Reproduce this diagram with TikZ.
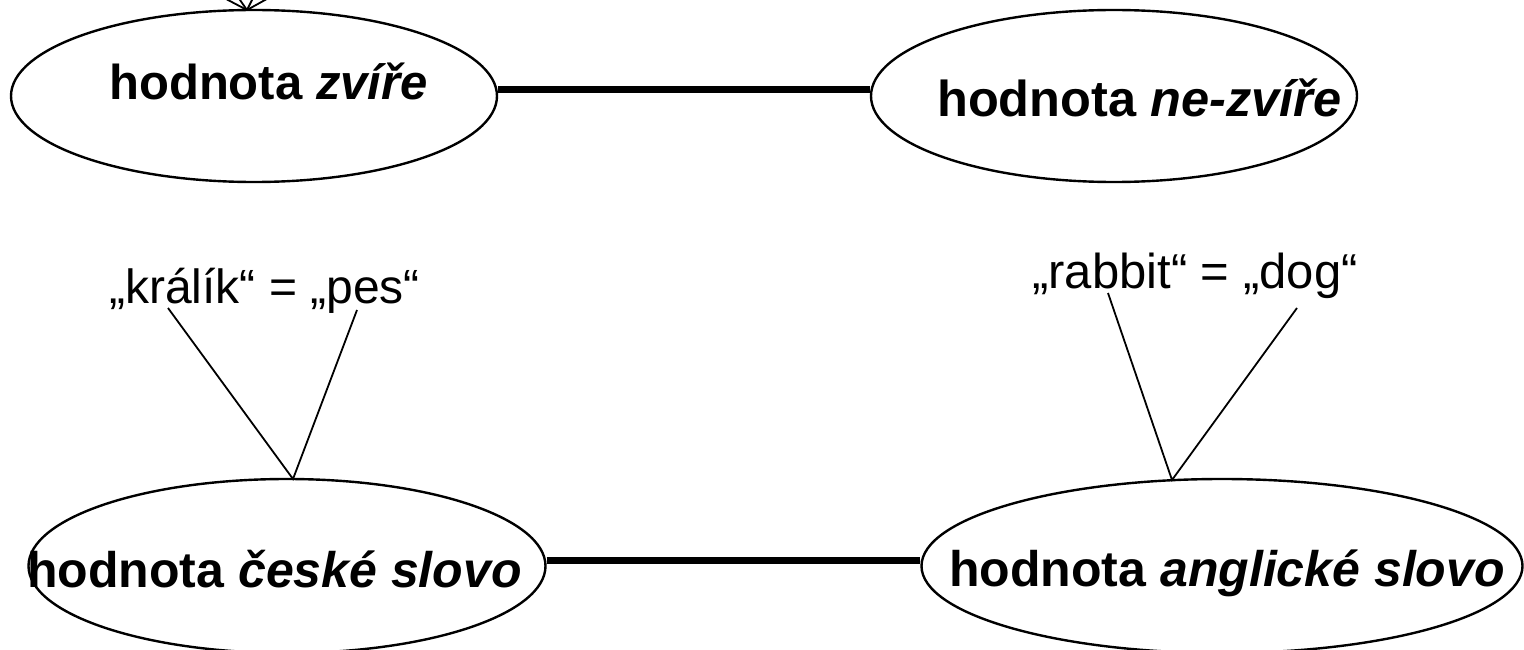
\documentclass[tikz,border=0pt]{standalone}
\usepackage{fontspec}
\setmainfont{Liberation Sans}
\usetikzlibrary{shapes.geometric}
\begin{document}
\begin{tikzpicture}[x=1pt,y=-1pt,
  ell/.style={draw=black, line width=2.4pt, ellipse, inner sep=0pt},
  lbl/.style={inner sep=0pt, anchor=base west},
  thin/.style={draw=black, line width=1.8pt},
  bar/.style={draw=black, line width=7pt}]
\useasboundingbox (0,0) rectangle (1524,650);
\clip (0,0) rectangle (1524,650);
% ellipses
\node[ell, minimum width=486pt, minimum height=172pt] (e1) at (254,96) {};
\node[ell, minimum width=486pt, minimum height=172pt] (e2) at (1114,96) {};
\node[ell, minimum width=517pt, minimum height=174pt] (e3) at (287,566) {};
\node[ell, minimum width=601pt, minimum height=174pt] (e4) at (1222,566) {};
% texts
\node[lbl, font=\fontsize{49}{58}\selectfont] (t1) at (109,100) {\textbf{hodnota \textit{zvíře}}};
\node[lbl, font=\fontsize{50.5}{60}\selectfont] (t2) at (937,117) {\textbf{hodnota \textit{ne-zvíře}}};
\node[lbl, font=\fontsize{50}{60}\selectfont] (t3) at (27,587) {\textbf{hodnota \textit{české slovo}}};
\node[lbl, font=\fontsize{50}{60}\selectfont] (t4) at (949,586) {\textbf{hodnota \textit{anglické slovo}}};
\node[lbl, font=\fontsize{48}{58}\selectfont] (w1) at (109,303) {„králík“ = „pes“};
\node[lbl, font=\fontsize{49}{58}\selectfont] (w2) at (1032,288) {„rabbit“ = „dog“};
% thick connectors
\draw[bar] ([yshift=6.5pt]e1.east) -- ([yshift=6.5pt]e2.west);
\draw[bar] ([yshift=6pt]e3.east) -- ([yshift=6pt]e4.west);
% thin lines from words to ellipses
\coordinate (a1) at (168,308);
\coordinate (a2) at (357,310);
\coordinate (m1) at (293,479);
\coordinate (b1) at (1108,293);
\coordinate (b2) at (1297,308);
\coordinate (m2) at (1172,480);
\draw[thin] (a1) -- (m1) -- (a2);
\draw[thin] (b1) -- (m2) -- (b2);
% fan at top of first ellipse
\coordinate (f) at (247,10);
\coordinate (f1) at (209,-10);
\coordinate (f2) at (233,-10);
\coordinate (f3) at (257,-10);
\coordinate (f4) at (283,-10);
\draw[thin] (f1) -- (f);
\draw[thin] (f2) -- (f);
\draw[thin] (f3) -- (f);
\draw[thin] (f4) -- (f);
\end{tikzpicture}
\end{document}
